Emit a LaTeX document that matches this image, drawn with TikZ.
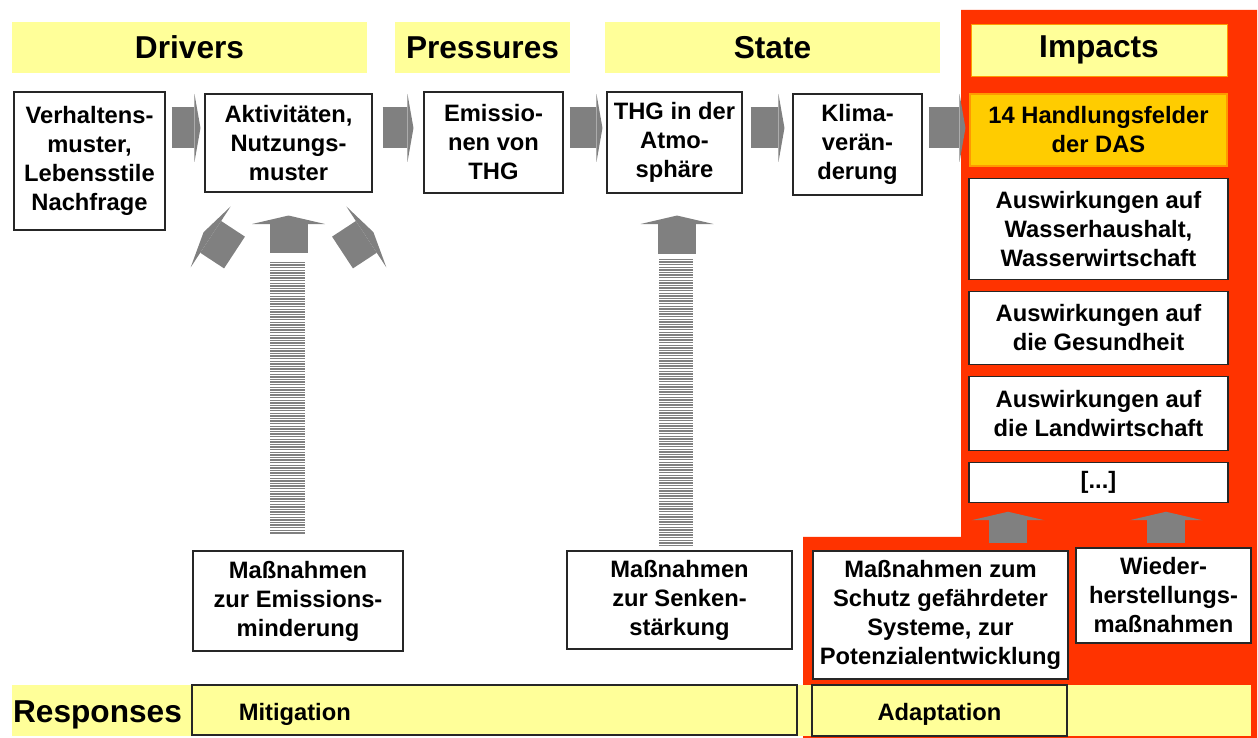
\documentclass[tikz,border=0pt]{standalone}
\usepackage{fontspec}
\setmainfont{Liberation Sans}
\usetikzlibrary{arrows.meta, positioning, calc}

\definecolor{barYellow}{HTML}{FFFF99}
\definecolor{impactRed}{HTML}{FF3300}
\definecolor{fieldOrange}{HTML}{FFCC00}
\definecolor{arrowGray}{HTML}{808080}

\begin{document}
\begin{tikzpicture}[
        node distance=0.22cm,
        head/.style={rectangle, fill=barYellow, inner sep=0pt, minimum height=1.02cm, font=\fontsize{18}{21}\selectfont\bfseries},
        box/.style={rectangle, draw=black!85, line width=0.6pt, fill=white, inner sep=1pt, align=center, font=\fontsize{13.5}{16.5}\selectfont\bfseries},
        impact/.style={box, minimum width=5.18cm},
        blk/.style={draw=arrowGray, line width=0.82cm, -{Triangle[length=0.12cm, width=1.36cm, line width=0pt]}, shorten <=0.12cm, shorten >=0.08cm},
        uparr/.style={draw=arrowGray, line width=0.76cm, -{Triangle[length=0.17cm, width=1.46cm, line width=0pt]}},
        stripe/.style={draw=arrowGray, line width=0.03cm}
        ]
        \useasboundingbox (0,0) rectangle (25.16,-14.76);

        % Impact area
        \fill[impactRed] (19.22,-0.20) -- (25.14,-0.20) -- (25.14,-14.76) -- (16.06,-14.76) -- (16.06,-10.74) -- (19.22,-10.74) -- cycle;

        % Headers
        \node[head, minimum width=7.10cm] (hdriv) at (3.79,-0.95) {Drivers};
        \node[head, minimum width=3.50cm] (hpress) at (9.65,-0.95) {Pressures};
        \node[head, minimum width=6.70cm] (hstate) at (15.45,-0.95) {State};
        \node[head, draw=orange!80!yellow, line width=0.4pt, minimum width=5.12cm, minimum height=1.04cm] (himp) at (21.98,-1.00) {Impacts};

        % Nodes
        \node[box, minimum width=3.02cm, minimum height=2.76cm] (verh) at (1.79,-3.22) {Verhaltens-\\muster,\\Lebensstile\\Nachfrage};
        \node[box, minimum width=3.34cm, minimum height=1.96cm] (aktiv) at (5.77,-2.86) {Aktivitäten,\\Nutzungs-\\muster};
        \node[box, minimum width=2.78cm, minimum height=2.02cm] (emiss) at (9.87,-2.85) {Emissio-\\nen von\\THG};
        \node[box, minimum width=2.70cm, minimum height=2.02cm] (thg) at (13.49,-2.85) {THG in der\\Atmo-\\sphäre};
        \node[box, minimum width=2.58cm, minimum height=2.02cm] (klima) at (17.15,-2.89) {Klima-\\verän-\\derung};

        \node[box, fill=fieldOrange, draw=orange!80!yellow, minimum width=5.14cm, minimum height=1.44cm] (handl) at (21.97,-2.60) {14 Handlungsfelder\\der DAS};
        \node[impact, minimum height=2.02cm, below=of handl] (wasser) {Auswirkungen auf\\Wasserhaushalt,\\Wasserwirtschaft};
        \node[impact, minimum height=1.46cm, below=of wasser] (gesund) {Auswirkungen auf\\die Gesundheit};
        \node[impact, minimum height=1.48cm, below=of gesund] (landw) {Auswirkungen auf\\die Landwirtschaft};
        \node[impact, minimum height=0.80cm, below=of landw] (etc) {[...]};

        \node[box, minimum width=4.20cm, minimum height=2.00cm] (mitig1) at (5.96,-12.02) {Maßnahmen\\zur Emissions-\\minderung};
        \node[box, minimum width=4.50cm, minimum height=1.96cm] (mitig2) at (13.59,-12.00) {Maßnahmen\\zur Senken-\\stärkung};
        \node[box, minimum width=5.10cm, minimum height=2.56cm] (schutz) at (18.81,-12.30) {Maßnahmen zum\\Schutz gefährdeter\\Systeme, zur\\Potenzialentwicklung};
        \node[box, minimum width=3.50cm, minimum height=1.90cm] (wieder) at (23.27,-11.91) {Wieder-\\herstellungs-\\maßnahmen};

        % Responses
        \node[head, minimum width=24.78cm] (resp) at (12.63,-14.21) {};
        \node[head, fill=none, anchor=base] (resptxt) at (1.95,-14.44) {Responses};
        \node[box, fill=barYellow, minimum width=12.10cm, minimum height=1.00cm] (mitbar) at (9.89,-14.20) {};
        \node[box, draw=none, fill=none, anchor=west] (mittxt) at ([xshift=0.9cm, yshift=-0.08cm]mitbar.west) {Mitigation};
        \node[box, fill=barYellow, minimum width=5.10cm, minimum height=1.02cm] (adabar) at (18.79,-14.21) {};
        \node[box, draw=none, fill=none] (adatxt) at ([yshift=-0.08cm]adabar.center) {Adaptation};

        % Arrows
        \coordinate (row) at (0,-2.56);
        \draw[blk] (verh.east |- row) -- (aktiv.west |- row);
        \draw[blk, shorten <=0.2cm, shorten >=0.2cm] (aktiv.east |- row) -- (emiss.west |- row);
        \draw[blk] (emiss.east |- row) -- (thg.west |- row);
        \draw[blk, shorten <=0.16cm, shorten >=0.16cm] (thg.east |- row) -- (klima.west |- row);
        \draw[blk] (klima.east |- row) -- (handl.west |- row);

        \path (aktiv.south) ++(0,-1.20) coordinate (f1);
        \draw[uparr, shorten >=0.46cm] (f1) -- (aktiv.south);
        \draw[uparr] ([xshift=-1.08cm]f1) -- ++(146.7:0.74);
        \draw[uparr] ([xshift=1.08cm]f1) -- ++(33.3:0.74);
        \foreach \k in {0,...,104}
            \draw[stripe] ($(f1)+(-0.37,-0.20-\k*0.052)$) -- ++(0.70,0);

        \path ([xshift=0.05cm]thg.south) ++(0,-1.20) coordinate (f2);
        \draw[uparr, shorten >=0.44cm] (f2) -- (f2 |- thg.south);
        \foreach \k in {0,...,110}
            \draw[stripe] ($(f2)+(-0.36,-0.12-\k*0.052)$) -- ++(0.68,0);

        \coordinate (u1) at ([xshift=1.35cm, yshift=0.14cm]schutz.north);
        \coordinate (u2) at ([xshift=0.05cm, yshift=0.08cm]wieder.north);
        \draw[uparr, shorten >=0.18cm] (u1) -- (u1 |- etc.south);
        \draw[uparr, shorten >=0.18cm] (u2) -- (u2 |- etc.south);

    \end{tikzpicture}
\end{document}
